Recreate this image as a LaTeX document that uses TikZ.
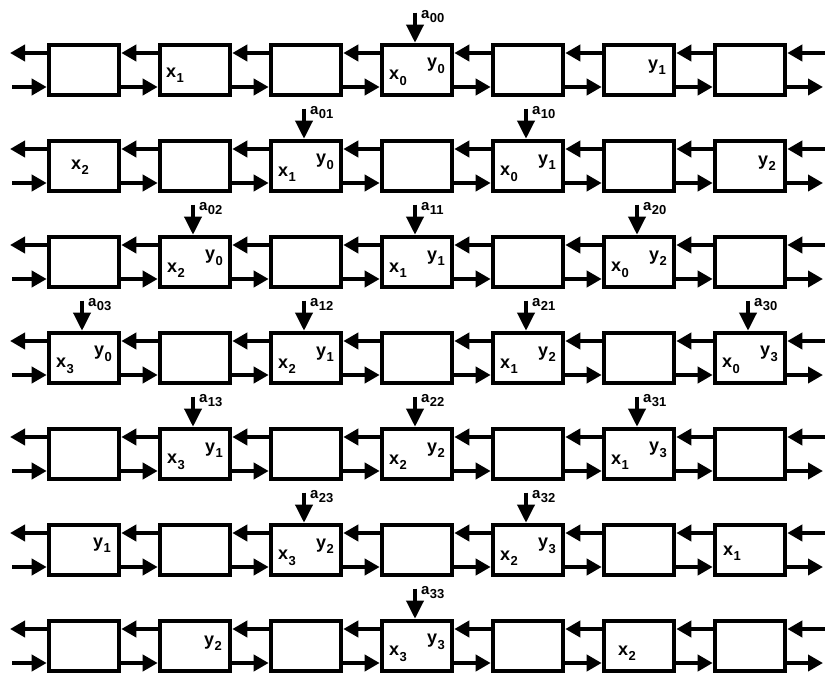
\documentclass[tikz,border=0pt]{standalone}
\usepackage{fontspec}
\setmainfont{Liberation Sans}
\usetikzlibrary{arrows.meta}
\newcommand{\sbl}[2]{#1\kern0.4pt\raisebox{-0.3em}{\fontsize{13}{13}\selectfont #2}}
\tikzset{
  cell/.style={draw, line width=4.6pt, minimum width=70pt, minimum height=50pt, inner sep=0pt},
  link/.style={line width=4pt, -{Triangle[length=15pt,width=16pt]}},
  feed/.style={line width=3.6pt, -{Triangle[length=18pt,width=17pt]}},
  val/.style={font=\bfseries\fontsize{18}{18}\selectfont, inner sep=0pt},
  tag/.style={font=\bfseries\fontsize{15}{15}\selectfont, inner sep=0pt, anchor=west},
}
\begin{document}
\begin{tikzpicture}[x=1pt,y=-1pt]
\useasboundingbox (0,0) rectangle (825,674);
% cells
\foreach \r in {1,...,7}{
  \foreach \c in {1,...,7}{
    \node[cell] (b-\r-\c) at ({84+111*(\c-1)},{70+96*(\r-1)}) {};
  }
}
% links between cells
\foreach \r in {1,...,7}{
  \foreach \c/\d in {1/2,2/3,3/4,4/5,5/6,6/7}{
    \draw[link] ([yshift=17pt]b-\r-\d.west) -- ([yshift=17pt]b-\r-\c.east);
    \draw[link] ([yshift=-17pt]b-\r-\c.east) -- ([yshift=-17pt]b-\r-\d.west);
  }
  \coordinate (lo\r) at (10,{70+96*(\r-1)-17});
  \coordinate (li\r) at (12,{70+96*(\r-1)+17});
  \coordinate (ri\r) at (825,{70+96*(\r-1)-17});
  \coordinate (ro\r) at (823,{70+96*(\r-1)+17});
  \draw[link] ([yshift=17pt]b-\r-1.west) -- (lo\r);
  \draw[link] (li\r) -- ([yshift=-17pt]b-\r-1.west);
  \draw[link] (ri\r) -- ([yshift=17pt]b-\r-7.east);
  \draw[link] ([yshift=-17pt]b-\r-7.east) -- (ro\r);
}
% inputs a_ij with x_j, y_i
\foreach \r/\c/\i/\j in {1/4/0/0, 2/3/0/1, 2/5/1/0, 3/2/0/2, 3/4/1/1, 3/6/2/0,
  4/1/0/3, 4/3/1/2, 4/5/2/1, 4/7/3/0, 5/2/1/3, 5/4/2/2, 5/6/3/1,
  6/3/2/3, 6/5/3/2, 7/4/3/3}{
  \coordinate (f\i\j) at ([xshift=-2pt,yshift=30pt]b-\r-\c.north);
  \draw[feed] (f\i\j) -- ([xshift=-2pt]b-\r-\c.north);
  \node[tag] (t\i\j) at ([xshift=6pt,yshift=-4pt]f\i\j) {\sbl{a}{\i\j}};
  \node[val] (x\i\j) at ([xshift=-19pt,yshift=-8pt]b-\r-\c.center) {\sbl{x}{\j}};
  \node[val] (y\i\j) at ([xshift=19pt,yshift=4pt]b-\r-\c.center) {\sbl{y}{\i}};
}
% single values
\node[val] (s1) at ([xshift=-20pt,yshift=-5pt]b-1-2.center) {\sbl{x}{1}};
\node[val] (s2) at ([xshift=18pt,yshift=3pt]b-1-6.center) {\sbl{y}{1}};
\node[val] (s3) at ([xshift=-4pt,yshift=-1pt]b-2-1.center) {\sbl{x}{2}};
\node[val] (s4) at ([xshift=17pt,yshift=3pt]b-2-7.center) {\sbl{y}{2}};
\node[val] (s5) at ([xshift=18pt,yshift=5pt]b-6-1.center) {\sbl{y}{1}};
\node[val] (s6) at ([xshift=-18pt,yshift=-3pt]b-6-7.center) {\sbl{x}{1}};
\node[val] (s7) at ([xshift=18pt,yshift=3pt]b-7-2.center) {\sbl{y}{2}};
\node[val] (s8) at ([xshift=-12pt,yshift=-7pt]b-7-6.center) {\sbl{x}{2}};
\end{tikzpicture}
\end{document}
